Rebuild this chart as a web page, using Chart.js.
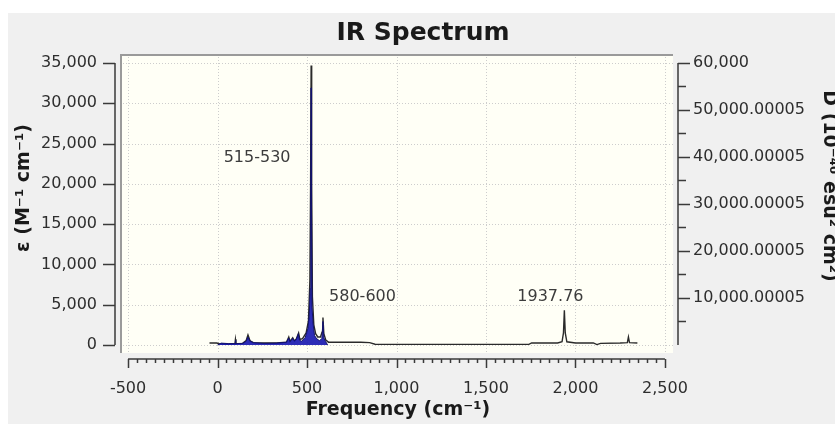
<!DOCTYPE html>
<html>
<head>
<meta charset="utf-8">
<script src="https://cdn.jsdelivr.net/npm/chart.js@4"></script>
<style>
  html, body { margin: 0; padding: 0; background: #ffffff; }
  canvas { display: block; }
</style>
</head>
<body>
<canvas id="irChart" width="835" height="424"></canvas>
<script>
// broadened spectrum, epsilon (left axis)
const specFreq = [-45, -5, 10, 60, 97, 100, 103, 140, 160, 170, 182, 200, 260, 330, 385, 398, 405, 420, 430, 440,
    453, 460, 475, 495, 508, 516, 520, 523, 526, 530, 538, 548, 560, 575, 584, 589, 594, 605, 620, 700,
    800, 850, 880, 1000, 1500, 1740, 1755, 1900, 1925, 1933, 1938, 1943, 1952, 2000, 2100, 2120, 2140, 2250, 2290, 2296,
    2302, 2346];
const specEps = [250, 250, 150, 100, 150, 700, 150, 200, 550, 1250, 500, 300, 250, 250, 350, 1000, 450, 900, 500, 750,
    1500, 700, 800, 1500, 3000, 8000, 20000, 34700, 20000, 6000, 2500, 1400, 1000, 1000, 1600, 3400, 1400, 600, 350, 350,
    350, 300, 100, 80, 80, 80, 250, 250, 400, 1500, 4300, 1500, 400, 250, 250, 50, 200, 250, 300, 1000,
    300, 250];

// dipole strength, D (right axis)
const dipFreq = [0, 20, 60, 98, 100, 102, 140, 160, 170, 180, 200, 260, 330, 385, 398, 405, 420, 428, 440, 452,
    458, 470, 490, 505, 512, 518, 521, 523, 525, 528, 534, 542, 555, 570, 583, 589, 594, 603, 615];
const dipD = [0, 400, 300, 300, 1000, 300, 350, 800, 1700, 900, 500, 350, 400, 600, 1500, 700, 1400, 900, 1200, 2400,
    1000, 800, 1600, 3500, 6000, 12000, 30000, 54700, 30000, 8000, 4500, 2000, 1300, 900, 1400, 5000, 1500, 800, 0];

// tick values
const freqTicks = [-500, 0, 500, 1000, 1500, 2000, 2500];
const epsTicks = [0, 5000, 10000, 15000, 20000, 25000, 30000, 35000];
const dTicks = [10000, 20000, 30000, 40000, 50000, 60000];
const dTickLabels = ['10,000.00005', '20,000.00005', '30,000.00005', '40,000.00005', '50,000.00005', '60,000'];

// peak labels
const peakText = ['515-530', '580-600', '1937.76'];
const peakFreq = [221, 810, 1860];
const peakEps = [23200, 5950, 5950];

const FONT = '"DejaVu Sans", Verdana, sans-serif';

function zip(xs, ys) {
    return xs.map((x, i) => ({ x: x, y: ys[i] }));
}

function fixedTicks(values) {
    return scale => { scale.ticks = values.map(v => ({ value: v })); };
}

const framePlugin = {
    id: 'frame',
    beforeDraw(chart) {
        const ctx = chart.ctx;
        const sx = chart.scales.x, sy = chart.scales.y;
        ctx.save();
        ctx.fillStyle = '#ffffff';
        ctx.fillRect(0, 0, chart.width, chart.height);
        ctx.fillStyle = '#f0f0f0';
        ctx.fillRect(8, 13, chart.width - 8, chart.height - 13);

        // plot panel
        const pl = 121, pr = 673, pt = 55, pb = 353;
        ctx.fillStyle = '#fffff6';
        ctx.fillRect(pl, pt, pr - pl, pb - pt);
        ctx.strokeStyle = '#9a9a9a';
        ctx.lineWidth = 2;
        ctx.beginPath();
        ctx.moveTo(pl, pb);
        ctx.lineTo(pl, pt);
        ctx.lineTo(pr, pt);
        ctx.stroke();

        // dotted grid
        ctx.strokeStyle = '#cdcdcd';
        ctx.lineWidth = 1;
        ctx.setLineDash([1, 2]);
        freqTicks.forEach(v => {
            const px = Math.round(sx.getPixelForValue(v)) + 0.5;
            ctx.beginPath();
            ctx.moveTo(px, pt + 2);
            ctx.lineTo(px, pb);
            ctx.stroke();
        });
        epsTicks.forEach(v => {
            const py = Math.round(sy.getPixelForValue(v)) + 0.5;
            ctx.beginPath();
            ctx.moveTo(pl + 2, py);
            ctx.lineTo(pr, py);
            ctx.stroke();
        });
        ctx.restore();
    },
    afterDraw(chart) {
        const ctx = chart.ctx;
        const sx = chart.scales.x, sy = chart.scales.y, sd = chart.scales.y2;
        ctx.save();
        ctx.strokeStyle = '#3a3a3a';
        ctx.lineWidth = 1.5;

        // left axis
        const lx = 115;
        ctx.beginPath();
        ctx.moveTo(lx, sy.getPixelForValue(35000));
        ctx.lineTo(lx, sy.getPixelForValue(0));
        epsTicks.forEach(v => {
            const py = Math.round(sy.getPixelForValue(v)) + 0.5;
            ctx.moveTo(lx - 12, py);
            ctx.lineTo(lx, py);
        });
        ctx.stroke();

        // right axis
        const rx = 678;
        ctx.beginPath();
        ctx.moveTo(rx, sd.getPixelForValue(60000));
        ctx.lineTo(rx, sd.getPixelForValue(0));
        for (let v = 5000; v <= 60000; v += 5000) {
            const py = Math.round(sd.getPixelForValue(v)) + 0.5;
            ctx.moveTo(rx, py);
            ctx.lineTo(rx + (v % 10000 === 0 ? 12 : 8), py);
        }
        ctx.stroke();

        // bottom axis with minor ticks
        const by = 359;
        ctx.beginPath();
        ctx.moveTo(sx.getPixelForValue(-500), by);
        ctx.lineTo(sx.getPixelForValue(2500), by);
        for (let v = -500; v <= 2500; v += 50) {
            const px = Math.round(sx.getPixelForValue(v)) + 0.5;
            ctx.moveTo(px, by);
            ctx.lineTo(px, by + (v % 500 === 0 ? 9 : 4));
        }
        ctx.stroke();

        // titles
        ctx.fillStyle = '#1a1a1a';
        ctx.textAlign = 'center';
        ctx.textBaseline = 'middle';
        ctx.font = 'bold 25px ' + FONT;
        ctx.fillText('IR Spectrum', 423, 33);
        ctx.font = 'bold 19px ' + FONT;
        ctx.fillText('Frequency (cm\u207B\u00B9)', 398, 410);

        ctx.save();
        ctx.translate(24, 188);
        ctx.rotate(-Math.PI / 2);
        ctx.fillText('\u03B5 (M\u207B\u00B9 cm\u207B\u00B9)', 0, 0);
        ctx.restore();

        ctx.save();
        ctx.translate(829, 186);
        ctx.rotate(Math.PI / 2);
        ctx.fillText('D (10\u207B\u2074\u2070 esu\u00B2 cm\u00B2)', 0, 0);
        ctx.restore();

        // peak labels
        ctx.fillStyle = '#3c3c3c';
        ctx.font = '16px ' + FONT;
        peakText.forEach((t, i) => {
            ctx.fillText(t, sx.getPixelForValue(peakFreq[i]), sy.getPixelForValue(peakEps[i]));
        });
        ctx.restore();
    }
};

const ctx = document.getElementById('irChart').getContext('2d');
new Chart(ctx, {
    type: 'line',
    data: {
        datasets: [{
            label: 'D',
            data: zip(dipFreq, dipD),
            yAxisID: 'y2',
            borderColor: '#12126e',
            borderWidth: 1,
            backgroundColor: 'rgba(22, 22, 175, 0.9)',
            fill: 'origin',
            pointRadius: 0,
            tension: 0
        }, {
            label: '\u03B5',
            data: zip(specFreq, specEps),
            yAxisID: 'y',
            borderColor: '#2a2a2a',
            borderWidth: 1.4,
            fill: false,
            pointRadius: 0,
            tension: 0
        }]
    },
    options: {
        responsive: false,
        animation: false,
        devicePixelRatio: 1,
        layout: { padding: { top: 55, left: 0, right: 0, bottom: 0 } },
        plugins: {
            legend: { display: false },
            tooltip: { enabled: false },
            title: { display: false }
        },
        scales: {
            x: {
                type: 'linear',
                position: 'bottom',
                min: -573,
                max: 2573,
                afterFit: s => { s.height = 65; },
                afterBuildTicks: fixedTicks(freqTicks),
                grid: { display: false, drawTicks: false },
                border: { display: false },
                ticks: {
                    autoSkip: false,
                    maxRotation: 0,
                    padding: 20,
                    color: '#2e2e2e',
                    font: { family: FONT, size: 16 },
                    callback: v => v.toLocaleString('en-US')
                }
            },
            y: {
                type: 'linear',
                position: 'left',
                min: -1738,
                max: 35993,
                afterFit: s => { s.width = 115; },
                afterBuildTicks: fixedTicks(epsTicks),
                grid: { display: false, drawTicks: false },
                border: { display: false },
                ticks: {
                    autoSkip: false,
                    padding: 18,
                    color: '#2e2e2e',
                    font: { family: FONT, size: 16 },
                    callback: v => v.toLocaleString('en-US')
                }
            },
            y2: {
                type: 'linear',
                position: 'right',
                min: -2979,
                max: 61702,
                afterFit: s => { s.width = 157; },
                afterBuildTicks: fixedTicks(dTicks),
                grid: { display: false, drawTicks: false },
                border: { display: false },
                ticks: {
                    autoSkip: false,
                    padding: 15,
                    color: '#2e2e2e',
                    font: { family: FONT, size: 16 },
                    callback: v => {
                        const i = dTicks.indexOf(v);
                        return i >= 0 ? dTickLabels[i] : '';
                    }
                }
            }
        }
    },
    plugins: [framePlugin]
});
</script>
</body>
</html>
